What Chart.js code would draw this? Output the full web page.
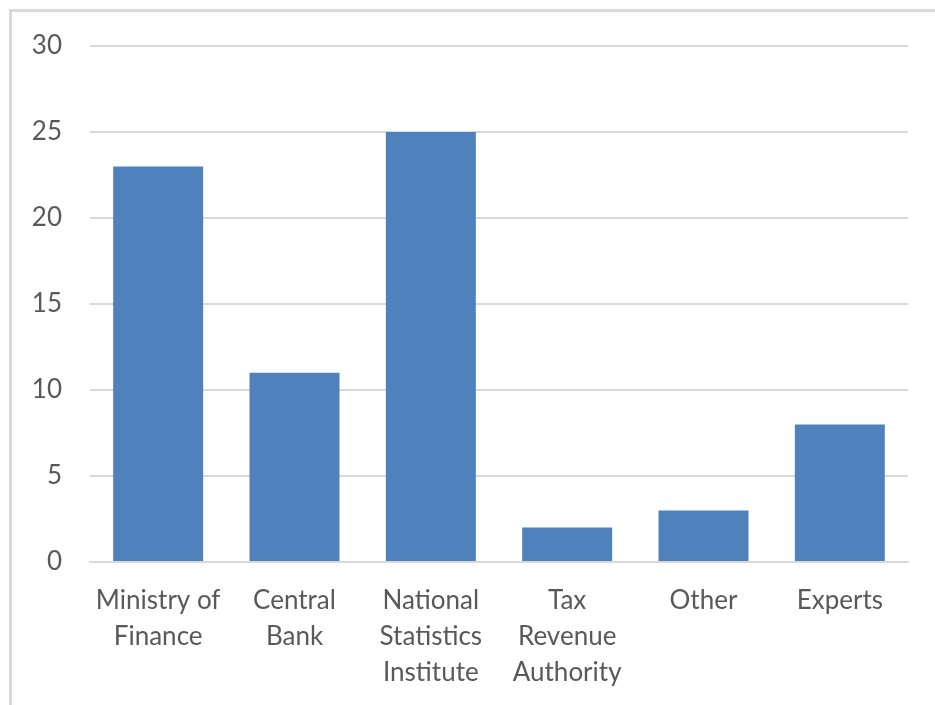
<!DOCTYPE html>
<html>
<head>
<meta charset="utf-8">
<script src="https://cdn.jsdelivr.net/npm/chart.js@4/dist/chart.umd.min.js"></script>
<style>
  html, body { margin: 0; padding: 0; background: #ffffff; overflow: hidden; }
  #frame { position: absolute; left: 9px; top: 9px; width: 940px; height: 710px;
           border-top: 3px solid #d9d9d9; border-left: 3px solid #d9d9d9; }
  #wrap { position: absolute; left: 0; top: 0; width: 935px; height: 705px; }
</style>
</head>
<body>
<div id="frame"></div>
<div id="wrap"><canvas id="c"></canvas></div>
<script>
const categories = [
  ["Ministry of", "Finance"],
  ["Central", "Bank"],
  ["National", "Statistics", "Institute"],
  ["Tax", "Revenue", "Authority"],
  ["Other"],
  ["Experts"]
];
const values = [23, 11, 25, 2, 3, 8];
const yTicks = [0, 5, 10, 15, 20, 25, 30];

const textColor = "#595959";
const fontFamily = "Lato, 'Liberation Sans', sans-serif";

new Chart(document.getElementById("c"), {
  type: "bar",
  data: {
    labels: categories,
    datasets: [{
      data: values,
      backgroundColor: "#4f81bd",
      borderWidth: 0,
      categoryPercentage: 1.0,
      barPercentage: 0.66
    }]
  },
  options: {
    responsive: true,
    maintainAspectRatio: false,
    animation: false,
    layout: { padding: { left: 0, right: 27, top: 46, bottom: 0 } },
    plugins: { legend: { display: false }, tooltip: { enabled: false } },
    scales: {
      x: {
        grid: { display: false, drawTicks: false },
        border: { display: true, color: "#d9d9d9", width: 2 },
        ticks: {
          color: textColor,
          font: { family: fontFamily, size: 26, lineHeight: 1.385 },
          padding: 21,
          maxRotation: 0,
          autoSkip: false
        },
        afterFit: (s) => { s.height = 143; }
      },
      y: {
        min: 0, max: 30,
        afterBuildTicks: (s) => { s.ticks = yTicks.map(v => ({ value: v })); },
        grid: { color: "#d9d9d9", lineWidth: 2, drawTicks: false },
        border: { display: false },
        ticks: {
          color: textColor,
          font: { family: fontFamily, size: 26 },
          padding: 28
        },
        afterFit: (s) => { s.width = 90; }
      }
    }
  }
});
</script>
</body>
</html>
